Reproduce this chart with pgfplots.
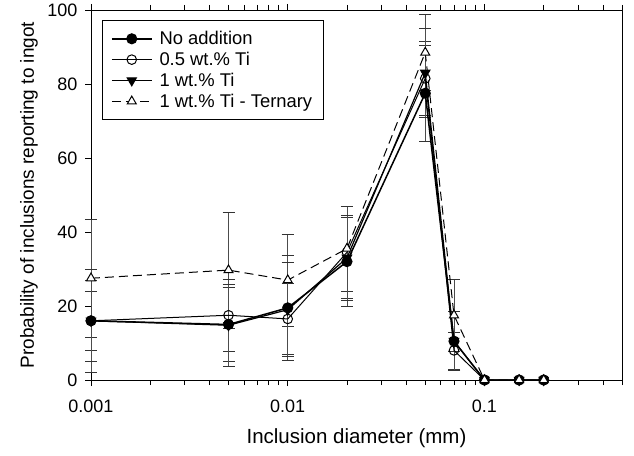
\documentclass[border=0pt]{standalone}
\usepackage{fontspec}
\setmainfont{Liberation Sans}
\usepackage{pgfplots}
\pgfplotsset{compat=1.18}

% error bars only, drawn below the lines and marks
\pgfplotsset{
  errs/.style={forget plot, only marks, mark=-, mark size=0pt,
    error bars/.cd, y dir=both, y explicit, error mark=|,
    error bar style={black!70, line width=0.6pt, solid},
    error mark options={black!80, line width=0.7pt, mark size=6pt, solid}},
}

\begin{document}
\begin{tikzpicture}
\useasboundingbox (-91pt,-75pt) rectangle (543pt,380pt);
\begin{axis}[
    scale only axis,
    width=531pt, height=370pt,
    xmode=log, xmin=0.001, xmax=0.5,
    ymin=0, ymax=100,
    xtick={0.001,0.01,0.1},
    xticklabels={0.001,0.01,0.1},
    minor xtick={0.002,0.003,0.004,0.005,0.006,0.007,0.008,0.009,
                 0.02,0.03,0.04,0.05,0.06,0.07,0.08,0.09,0.2,0.3,0.4,0.5},
    ytick={0,20,40,60,80,100},
    tick align=outside,
    xtick pos=both, ytick pos=left,
    major tick length=6pt, minor tick length=5pt,
    every tick/.style={black, line width=0.8pt},
    axis line style={line width=0.9pt},
    tick label style={font=\fontsize{18}{20}\selectfont},
    xticklabel style={yshift=-10pt},
    yticklabel style={xshift=-4pt},
    /pgf/number format/assume math mode=true,
    xlabel={Inclusion diameter (mm)},
    ylabel={Probability of inclusions reporting to ingot},
    xlabel style={font=\fontsize{20.5}{22}\selectfont, at={(axis description cs:0.5,-0.157)}, anchor=center},
    ylabel style={font=\fontsize{19}{21}\selectfont, at={(axis description cs:-0.117,0.5)}, anchor=center},
    legend style={at={(0.020,0.973)}, anchor=north west, draw=black, line width=0.8pt,
      font=\fontsize{18.4}{20}\selectfont, inner xsep=9pt, inner ysep=9pt,
      row sep=2pt, cells={anchor=west}},
    legend image code/.code={\draw[mark repeat=2,mark phase=2,#1]
      plot coordinates {(0pt,0pt) (20pt,0pt) (40pt,0pt)};
      \path (45pt,0pt);},
    clip=false,
]

% error bars
\addplot[errs] coordinates {
  (0.001,27.5) +- (0,16.0) (0.005,29.7) +- (0,15.7) (0.01,27.0) +- (0,12.4)
  (0.02,35.5) +- (0,11.5) (0.05,88.5) +- (0,10.3) (0.07,17.5) +- (0,9.7)};
\addplot[errs] coordinates {
  (0.001,16.0) +- (0,14.0) (0.005,15.0) +- (0,10.0) (0.01,19.5) +- (0,14.2)
  (0.02,32.0) +- (0,12.0) (0.05,77.5) +- (0,13.0) (0.07,10.5) +- (0,8.0)};
\addplot[errs] coordinates {
  (0.001,16.0) +- (0,8.0) (0.005,17.5) +- (0,9.8) (0.01,16.5) +- (0,9.7)
  (0.02,34.5) +- (0,12.5) (0.05,81.5) +- (0,10.0) (0.07,8.0) +- (0,5.0)};
\addplot[errs] coordinates {
  (0.001,16.0) +- (0,11.0) (0.005,14.8) +- (0,11.0) (0.01,19.0) +- (0,12.7)
  (0.02,33.0) +- (0,11.5) (0.05,83.0) +- (0,12.0) (0.07,10.5) +- (0,8.0)};

% series
\addplot[black, line width=1.5pt, mark=*, mark size=4.8pt, mark options={solid, fill=black}] coordinates {
  (0.001,16.0) (0.005,15.0) (0.01,19.5) (0.02,32.0) (0.05,77.5) (0.07,10.5)
  (0.1,0) (0.15,0) (0.2,0)};
\addlegendentry{No addition}
\addplot[black, line width=1pt, mark=o, mark size=4.8pt, mark options={solid, fill=white, line width=1pt}] coordinates {
  (0.001,16.0) (0.005,17.5) (0.01,16.5) (0.02,34.5) (0.05,81.5) (0.07,8.0)
  (0.1,0) (0.15,0) (0.2,0)};
\addlegendentry{0.5 wt.\% Ti}
\addplot[black, line width=1.2pt, mark=triangle*, mark size=5.2pt, mark options={solid, fill=black, rotate=180}] coordinates {
  (0.001,16.0) (0.005,14.8) (0.01,19.0) (0.02,33.0) (0.05,83.0) (0.07,10.5)
  (0.1,0) (0.15,0) (0.2,0)};
\addlegendentry{1 wt.\% Ti}
\addplot[black, line width=1pt, dash pattern=on 9pt off 5pt, mark=triangle*, mark size=5.2pt, mark options={solid, fill=white, line width=1pt}] coordinates {
  (0.001,27.5) (0.005,29.7) (0.01,27.0) (0.02,35.5) (0.05,88.5) (0.07,17.5)
  (0.1,0) (0.15,0) (0.2,0)};
\addlegendentry{1 wt.\% Ti - Ternary}

\end{axis}
\end{tikzpicture}
\end{document}
